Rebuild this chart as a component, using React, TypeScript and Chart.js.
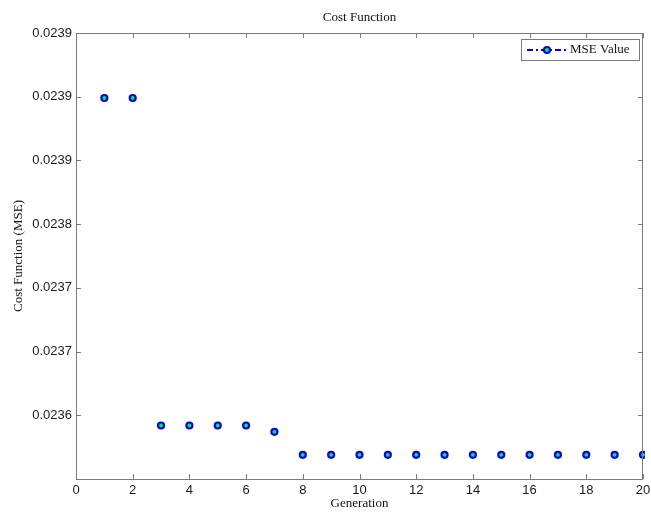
import React, { useEffect, useRef } from "react";
import { Chart, registerables } from "chart.js";

Chart.register(...registerables);

const generations = [1, 2, 3, 4, 5, 6, 7, 8, 9, 10, 11, 12, 13, 14, 15, 16, 17, 18, 19, 20];
const mseValues = [
  0.023899, 0.023899, 0.023642, 0.023642, 0.023642, 0.023642, 0.023637, 0.023619, 0.023619, 0.023619,
  0.023619, 0.023619, 0.023619, 0.023619, 0.023619, 0.023619, 0.023619, 0.023619, 0.023619, 0.023619,
];
const xTickValues = [0, 2, 4, 6, 8, 10, 12, 14, 16, 18, 20];
const xTickLabels = ["0", "2", "4", "6", "8", "10", "12", "14", "16", "18", "20"];
const yTickValues = [0.0236, 0.02365, 0.0237, 0.02375, 0.0238, 0.02385, 0.0239, 0.02395];
const yTickLabels = ["", "0.0236", "0.0237", "0.0237", "0.0238", "0.0239", "0.0239", "0.0239"];

const chartTitle = "Cost Function";
const xTitle = "Generation";
const yTitle = "Cost Function (MSE)";
const seriesLabel = "MSE Value";

const SERIF = "'Liberation Serif', 'Times New Roman', serif";
const SANS = "'Liberation Sans', Arial, sans-serif";
const AXIS_COLOR = "#7a7a7a";

const decorPlugin = {
  id: "matlabDecor",
  afterDraw(chart: any) {
    const ctx = chart.ctx as CanvasRenderingContext2D;
    const { left, right, top, bottom } = chart.chartArea;
    const xs = chart.scales.x;
    const ys = chart.scales.y;
    ctx.save();
    // axes box
    ctx.strokeStyle = AXIS_COLOR;
    ctx.lineWidth = 1;
    ctx.strokeRect(left + 0.5, top + 0.5, right - left - 1, bottom - top);
    // inward ticks
    const tl = 5;
    ctx.beginPath();
    xTickValues.forEach((v) => {
      const px = Math.round(xs.getPixelForValue(v)) + 0.5;
      ctx.moveTo(px, bottom);
      ctx.lineTo(px, bottom - tl);
      ctx.moveTo(px, top);
      ctx.lineTo(px, top + tl);
    });
    yTickValues.forEach((v) => {
      const py = Math.round(ys.getPixelForValue(v)) + 0.5;
      ctx.moveTo(left, py);
      ctx.lineTo(left + tl, py);
      ctx.moveTo(right, py);
      ctx.lineTo(right - tl, py);
    });
    ctx.stroke();

    // titles
    ctx.fillStyle = "#111";
    ctx.font = `13px ${SERIF}`;
    ctx.textAlign = "center";
    ctx.textBaseline = "middle";
    ctx.fillText(chartTitle, (left + right) / 2, 18);
    ctx.fillText(xTitle, (left + right) / 2, 504);
    ctx.save();
    ctx.translate(19, (top + bottom) / 2);
    ctx.rotate(-Math.PI / 2);
    ctx.fillText(yTitle, 0, 0);
    ctx.restore();

    // legend
    const ds = chart.data.datasets[0];
    const bx = 521, by = 39, bw = 118, bh = 21;
    ctx.fillStyle = "#fff";
    ctx.fillRect(bx, by, bw, bh);
    ctx.strokeStyle = AXIS_COLOR;
    ctx.lineWidth = 1;
    ctx.strokeRect(bx + 0.5, by + 0.5, bw, bh);
    const ly = by + bh / 2 + 0.5;
    ctx.strokeStyle = ds.pointBorderColor;
    ctx.lineWidth = 2;
    ctx.setLineDash([6, 3, 2, 3]);
    ctx.beginPath();
    ctx.moveTo(527, ly);
    ctx.lineTo(567, ly);
    ctx.stroke();
    ctx.setLineDash([]);
    ctx.beginPath();
    ctx.arc(547, ly, ds.pointRadius, 0, Math.PI * 2);
    ctx.fillStyle = ds.pointBackgroundColor;
    ctx.fill();
    ctx.lineWidth = ds.pointBorderWidth;
    ctx.stroke();
    ctx.fillStyle = "#111";
    ctx.font = `13px ${SERIF}`;
    ctx.textAlign = "left";
    ctx.textBaseline = "middle";
    ctx.fillText(ds.label, 570, ly);
    ctx.restore();
  },
};

export default function App() {
  const ref = useRef<HTMLCanvasElement | null>(null);
  useEffect(() => {
    if (!ref.current) return;
    const chart = new Chart(ref.current, {
      type: "line",
      data: {
        datasets: [
          {
            label: seriesLabel,
            data: generations.map((g, i) => ({ x: g, y: mseValues[i] })),
            showLine: false,
            pointRadius: 3,
            pointBorderWidth: 2.2,
            pointBorderColor: "#0000ff",
            pointBackgroundColor: "#00ff00",
            borderColor: "#0000ff",
            clip: 2,
          } as any,
        ],
      },
      options: {
        animation: false,
        responsive: false,
        layout: { padding: { left: 0, top: 33, right: 8, bottom: 0 } },
        plugins: { legend: { display: false }, title: { display: false }, tooltip: { enabled: false } },
        scales: {
          x: {
            type: "linear",
            min: 0,
            max: 20,
            grid: { display: false, drawTicks: false },
            border: { display: false },
            afterBuildTicks: (s: any) => {
              s.ticks = xTickValues.map((v) => ({ value: v }));
            },
            afterFit: (s: any) => {
              s.height = 33;
              s.paddingLeft = 0;
              s.paddingRight = 0;
            },
            ticks: {
              padding: 4,
              color: "#1a1a1a",
              font: { family: SANS, size: 13 },
              maxRotation: 0,
              autoSkip: false,
              callback: (_v: any, i: number) => xTickLabels[i],
            },
          },
          y: {
            type: "linear",
            min: 0.0236,
            max: 0.02395,
            grid: { display: false, drawTicks: false },
            border: { display: false },
            afterBuildTicks: (s: any) => {
              s.ticks = yTickValues.map((v) => ({ value: v }));
            },
            afterFit: (s: any) => {
              s.width = 76;
              s.paddingTop = 0;
              s.paddingBottom = 0;
            },
            ticks: {
              padding: 4,
              color: "#1a1a1a",
              font: { family: SANS, size: 13 },
              autoSkip: false,
              callback: (_v: any, i: number) => yTickLabels[i],
            },
          },
        },
      },
      plugins: [decorPlugin],
    });
    return () => chart.destroy();
  }, []);
  return (
    <div style={{ position: "absolute", left: 0, top: 0, width: 651, height: 512, background: "#fff" }}>
      <canvas ref={ref} width={651} height={512} style={{ width: 651, height: 512 }} />
    </div>
  );
}
